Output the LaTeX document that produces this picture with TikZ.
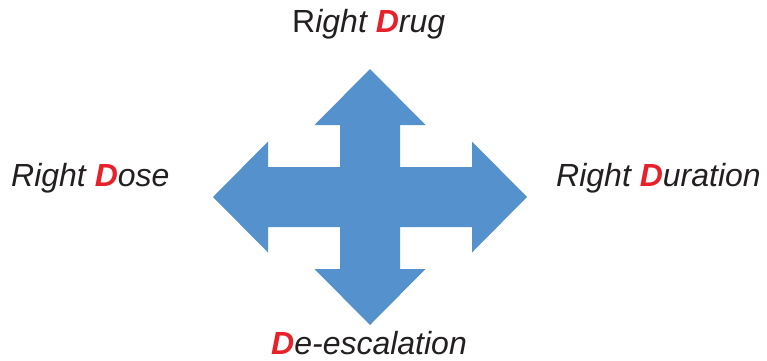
\documentclass[tikz,border=0pt]{standalone}
\usepackage{fontspec}
\setmainfont{Liberation Sans}
\usepackage{xcolor}
\usepackage{tikz}
\usetikzlibrary{positioning}

\definecolor{arrowblue}{RGB}{85,145,204}
\definecolor{ddred}{RGB}{232,32,42}
\definecolor{txtgray}{RGB}{35,31,32}
\newcommand{\bigD}[1]{\textcolor{ddred}{\bfseries #1}}

\begin{document}
\begin{tikzpicture}[x=1pt, y=-1pt,
  lbl/.style={font=\fontsize{32}{38}\selectfont\itshape, text=txtgray,
              inner sep=0pt, anchor=base west}]
\useasboundingbox (0,0) rectangle (767,360);
%%── Four-way arrow ───────────────────────────────────────
\coordinate (ctr) at (370,197);
\fill[arrowblue]
  (370,69) -- (425.5,125) -- (400,125) -- (400,167)        % top head
  -- (472,167) -- (472,141.5) -- (527,197) -- (472,252.5)  % right head
  -- (472,227) -- (400,227) -- (400,269)
  -- (425.5,269) -- (370,325) -- (314.5,269)               % bottom head
  -- (340,269) -- (340,227) -- (268,227) -- (268,252.5)
  -- (213,197) -- (268,141.5)                              % left head
  -- (268,167) -- (340,167) -- (340,125) -- (314.5,125) -- cycle;
%%── Labels ───────────────────────────────────────────────
\node[lbl] (drug)  at (292,32)  {\textup{R}ight \bigD{D}rug};
\node[lbl] (dose)  at (11,186)  {Right \bigD{D}ose};
\node[lbl] (dur)   at (556,186) {Right \bigD{D}uration};
\node[lbl] (deesc) at (271,354) {\bigD{D}e-escalation};
\end{tikzpicture}
\end{document}
